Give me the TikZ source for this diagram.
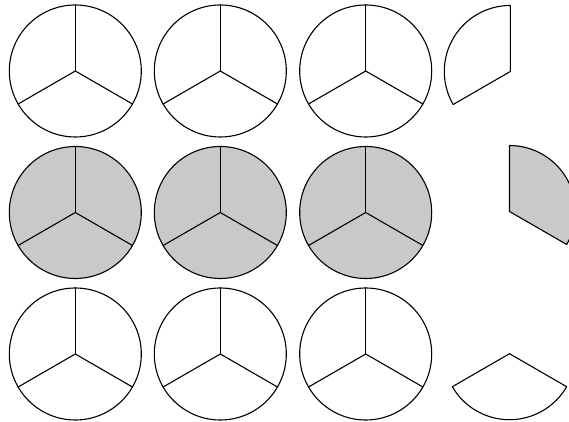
\documentclass[tikz,border=0pt]{standalone}
\usetikzlibrary{arrows}
\definecolor{cqcqcq}{RGB}{201,201,201}
\begin{document}
\begin{tikzpicture}[line cap=round,line join=round,x=1pt,y=1pt]
		\useasboundingbox (0,0) rectangle (569,422);
		\clip (0,0) rectangle (569,422);
		% three rows of whole circles cut into thirds
		\foreach \x in {75.3,220.3,365.7}
		{
		\draw [line width=1.1pt] (\x,351) circle (66);
		\draw [line width=1.1pt] (\x,351) -- ++(90:66);
		\draw [line width=1.1pt] (\x,351) -- ++(210:66);
		\draw [line width=1.1pt] (\x,351) -- ++(330:66);
		\filldraw [line width=1.1pt,fill=cqcqcq] (\x,209.5) circle (66);
		\draw [line width=1.1pt] (\x,209.5) -- ++(90:66);
		\draw [line width=1.1pt] (\x,209.5) -- ++(210:66);
		\draw [line width=1.1pt] (\x,209.5) -- ++(330:66);
		\draw [line width=1.1pt] (\x,68) circle (66);
		\draw [line width=1.1pt] (\x,68) -- ++(90:66);
		\draw [line width=1.1pt] (\x,68) -- ++(210:66);
		\draw [line width=1.1pt] (\x,68) -- ++(330:66);
		}
		% single thirds
		\draw [line width=1.1pt] (510.3,350.5) -- ++(90:66) arc (90:210:66) -- cycle;
		\filldraw [line width=1.1pt,fill=cqcqcq] (509.5,210.5) -- ++(330:66) arc (330:450:66) -- cycle;
		\draw [line width=1.1pt] (509.5,68.3) -- ++(210:66) arc (210:330:66) -- cycle;
	\end{tikzpicture}
\end{document}
